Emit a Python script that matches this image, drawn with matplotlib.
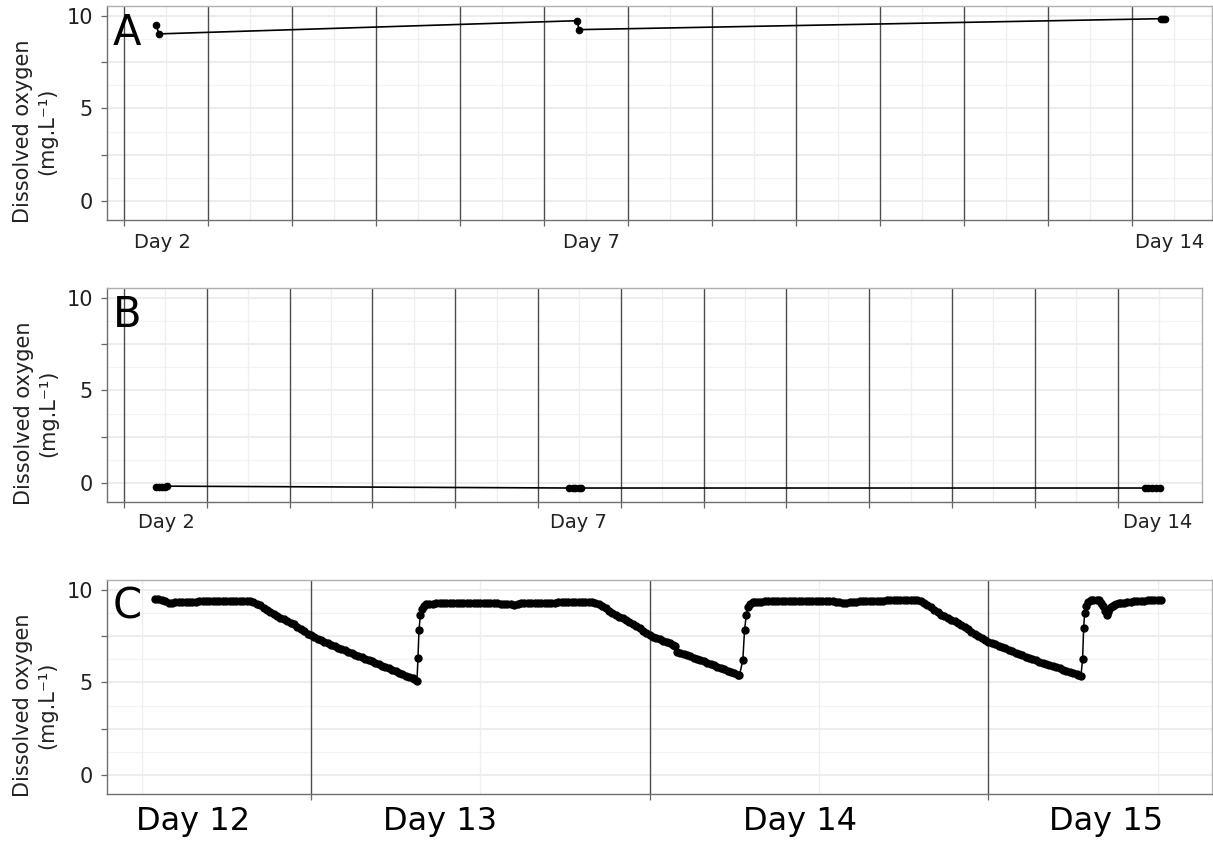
import numpy as np
import matplotlib.pyplot as plt

## Data ########################

# panel A (days 2 - 14)
a_day = [2.38, 2.42, 7.39, 7.42, 14.34, 14.365, 14.39]
a_do = [9.52, 9.02, 9.73, 9.25, 9.84, 9.84, 9.84]
a_labels = ['Day 2', 'Day 7', 'Day 14']
a_label_pos = [2.46, 7.57, 14.44]

# panel B (days 2 - 14)
b_day = [2.39, 2.42, 2.46, 2.49, 2.52,
         7.38, 7.42, 7.45, 7.49, 7.52,
         14.33, 14.37, 14.42, 14.46, 14.51]
b_do = [-0.23, -0.24, -0.22, -0.19, -0.17,
        -0.27, -0.27, -0.26, -0.27, -0.27,
        -0.27, -0.27, -0.26, -0.27, -0.27]
b_labels = ['Day 2', 'Day 7', 'Day 14']
b_label_pos = [2.51, 7.49, 14.48]

# panel C (continuous logging), read per stretch
c_day_1 = [12.540, 12.550, 12.560, 12.570, 12.580, 12.590, 12.600, 12.610, 12.620, 12.630,
           12.640, 12.650, 12.660, 12.670, 12.680, 12.690, 12.700, 12.710, 12.720, 12.730,
           12.740, 12.750, 12.760, 12.770, 12.780, 12.790, 12.800, 12.810, 12.820, 12.830,
           12.840, 12.850, 12.860, 12.870, 12.880, 12.890, 12.900, 12.910, 12.920, 12.930,
           12.940, 12.950, 12.960, 12.970, 12.980, 12.990, 13.000, 13.010, 13.020, 13.030,
           13.040, 13.050, 13.060, 13.070, 13.080, 13.090, 13.100, 13.110, 13.120, 13.130,
           13.140, 13.150, 13.160, 13.170, 13.180, 13.190, 13.200, 13.210, 13.220, 13.230,
           13.240, 13.250, 13.260, 13.270, 13.280, 13.290, 13.300, 13.305, 13.313]
c_do_1 = [9.52, 9.50, 9.45, 9.38, 9.30, 9.31, 9.33, 9.34, 9.35, 9.35,
          9.36, 9.36, 9.36, 9.37, 9.37, 9.37, 9.37, 9.37, 9.37, 9.37,
          9.37, 9.37, 9.37, 9.38, 9.38, 9.38, 9.38, 9.38, 9.37, 9.33,
          9.24, 9.15, 9.03, 8.92, 8.81, 8.70, 8.60, 8.50, 8.41, 8.32,
          8.23, 8.13, 8.01, 7.88, 7.76, 7.63, 7.53, 7.44, 7.36, 7.28,
          7.20, 7.12, 7.04, 6.96, 6.88, 6.80, 6.72, 6.65, 6.57, 6.50,
          6.43, 6.36, 6.28, 6.21, 6.13, 6.06, 5.98, 5.90, 5.83, 5.75,
          5.67, 5.59, 5.52, 5.44, 5.37, 5.30, 5.22, 5.18, 5.10]

c_day_2 = [13.316, 13.319, 13.323, 13.327, 13.333, 13.341, 13.350, 13.360, 13.370, 13.380,
           13.390, 13.400, 13.410, 13.420, 13.430, 13.440, 13.450, 13.460, 13.470, 13.480,
           13.490, 13.500, 13.510, 13.520, 13.530, 13.540, 13.550, 13.560, 13.570, 13.580,
           13.590, 13.600, 13.610, 13.620, 13.630, 13.640, 13.650, 13.660, 13.670, 13.680,
           13.690, 13.700, 13.710, 13.720, 13.730, 13.740, 13.750, 13.760, 13.770, 13.780,
           13.790, 13.800, 13.810, 13.820, 13.830, 13.840, 13.850, 13.860, 13.870, 13.880,
           13.890, 13.900, 13.910, 13.920, 13.930, 13.940, 13.950, 13.960, 13.970, 13.980,
           13.990, 14.000, 14.010, 14.020, 14.030, 14.040, 14.050, 14.060, 14.070, 14.075,
           14.080, 14.090, 14.100, 14.110, 14.120, 14.130, 14.140, 14.150, 14.160, 14.170,
           14.180, 14.190, 14.200, 14.210, 14.220, 14.230, 14.240, 14.250, 14.260, 14.265]
c_do_2 = [6.29, 7.84, 8.61, 8.95, 9.12, 9.22, 9.24, 9.25, 9.26, 9.27,
          9.27, 9.27, 9.28, 9.28, 9.28, 9.28, 9.28, 9.28, 9.28, 9.28,
          9.28, 9.27, 9.27, 9.27, 9.27, 9.27, 9.26, 9.25, 9.23, 9.22,
          9.21, 9.20, 9.24, 9.26, 9.27, 9.28, 9.29, 9.30, 9.30, 9.30,
          9.31, 9.31, 9.31, 9.31, 9.32, 9.32, 9.32, 9.32, 9.33, 9.33,
          9.33, 9.33, 9.33, 9.33, 9.33, 9.31, 9.24, 9.12, 8.99, 8.86,
          8.74, 8.63, 8.54, 8.45, 8.35, 8.25, 8.16, 8.05, 7.92, 7.78,
          7.66, 7.54, 7.47, 7.40, 7.33, 7.25, 7.18, 7.10, 7.02, 6.96,
          6.65, 6.58, 6.52, 6.46, 6.40, 6.33, 6.27, 6.20, 6.13, 6.06,
          5.99, 5.92, 5.85, 5.78, 5.70, 5.63, 5.56, 5.49, 5.42, 5.38]

c_day_3 = [14.275, 14.280, 14.285, 14.290, 14.297, 14.305, 14.310, 14.320, 14.330, 14.340,
           14.350, 14.360, 14.370, 14.380, 14.390, 14.400, 14.410, 14.420, 14.430, 14.440,
           14.450, 14.460, 14.470, 14.480, 14.490, 14.500, 14.510, 14.520, 14.530, 14.540,
           14.550, 14.560, 14.570, 14.580, 14.590, 14.600, 14.610, 14.620, 14.630, 14.640,
           14.650, 14.660, 14.670, 14.680, 14.690, 14.700, 14.710, 14.720, 14.730, 14.740,
           14.750, 14.760, 14.770, 14.780, 14.790, 14.800, 14.810, 14.820, 14.830, 14.840,
           14.850, 14.860, 14.870, 14.880, 14.890, 14.900, 14.910, 14.920, 14.930, 14.940,
           14.950, 14.960, 14.970, 14.980, 14.990, 15.000, 15.010, 15.020, 15.030, 15.040,
           15.050, 15.060, 15.070, 15.080, 15.090, 15.100, 15.110, 15.120, 15.130, 15.140,
           15.150, 15.160, 15.170, 15.180, 15.190, 15.200, 15.210, 15.220, 15.230, 15.240,
           15.250, 15.260, 15.265, 15.273]
c_do_3 = [6.20, 7.81, 8.61, 9.05, 9.22, 9.32, 9.34, 9.35, 9.36, 9.37,
          9.37, 9.38, 9.38, 9.38, 9.39, 9.39, 9.40, 9.40, 9.40, 9.40,
          9.40, 9.40, 9.40, 9.40, 9.40, 9.39, 9.39, 9.38, 9.38, 9.37,
          9.35, 9.33, 9.31, 9.30, 9.32, 9.34, 9.36, 9.37, 9.38, 9.38,
          9.39, 9.40, 9.40, 9.41, 9.41, 9.42, 9.42, 9.43, 9.43, 9.44,
          9.44, 9.45, 9.45, 9.45, 9.43, 9.38, 9.30, 9.18, 9.05, 8.92,
          8.79, 8.66, 8.56, 8.47, 8.38, 8.29, 8.20, 8.10, 7.98, 7.86,
          7.73, 7.60, 7.49, 7.39, 7.29, 7.20, 7.13, 7.06, 6.98, 6.91,
          6.83, 6.76, 6.68, 6.61, 6.53, 6.46, 6.39, 6.32, 6.25, 6.19,
          6.12, 6.06, 6.00, 5.94, 5.87, 5.81, 5.75, 5.69, 5.62, 5.56,
          5.50, 5.44, 5.40, 5.35]

c_day_4 = [15.278, 15.281, 15.284, 15.288, 15.295, 15.303, 15.310, 15.320, 15.327, 15.333,
           15.337, 15.343, 15.349, 15.353, 15.357, 15.362, 15.367, 15.372, 15.377, 15.385,
           15.390, 15.400, 15.410, 15.420, 15.430, 15.440, 15.450, 15.460, 15.470, 15.480,
           15.490, 15.500, 15.510]
c_do_4 = [6.24, 7.93, 8.73, 9.14, 9.35, 9.45, 9.47, 9.46, 9.45, 9.30,
          9.14, 8.85, 8.66, 8.82, 8.97, 9.06, 9.12, 9.18, 9.23, 9.26,
          9.28, 9.31, 9.33, 9.35, 9.37, 9.38, 9.40, 9.41, 9.42, 9.42,
          9.43, 9.44, 9.45]

c_day = c_day_1 + c_day_2 + c_day_3 + c_day_4
c_do = c_do_1 + c_do_2 + c_do_3 + c_do_4
c_labels = ['Day 12', 'Day 13', 'Day 14', 'Day 15']
c_label_pos = [12.652, 13.381, 14.445, 15.348]

y_ticks = [0, 2.5, 5, 7.5, 10]
y_ticklabels = ['0', '', '5', '', '10']

## Figure ########################

W, H = 1213, 841
fig = plt.figure(figsize=(W / 100, H / 100), dpi=100)

def px_axes(left, right, top, bottom):
    return fig.add_axes([left / W, 1 - bottom / H, (right - left) / W, (bottom - top) / H])

ax_a = px_axes(107, 1212, 6, 220)
ax_b = px_axes(107, 1202, 288, 502)
ax_c = px_axes(107, 1212, 580, 794)


def style_axes(ax, xlim, day_ticks, half_ticks, letter):
    ax.set_xlim(*xlim)
    ax.set_ylim(-1.025, 10.525)
    ax.set_xticks(day_ticks)
    ax.set_xticklabels([''] * len(day_ticks))
    ax.set_xticks(half_ticks, minor=True)
    ax.set_yticks(y_ticks)
    ax.set_yticklabels(y_ticklabels, fontsize=15, color='#222222')
    ax.set_yticks([1.25, 3.75, 6.25, 8.75], minor=True)
    ax.tick_params(axis='both', which='major', direction='out', length=4, width=0.9,
                   color='#666666', pad=6)
    ax.tick_params(axis='both', which='minor', length=0)
    ax.set_axisbelow(True)
    ax.grid(which='major', axis='x', color='#4d4d4d', linewidth=1.0)
    ax.grid(which='minor', axis='x', color='#eeeeee', linewidth=0.9)
    ax.grid(which='major', axis='y', color='#e8e8e8', linewidth=1.1)
    ax.grid(which='minor', axis='y', color='#f3f3f3', linewidth=0.9)
    # keep the dark day lines on top of the horizontal grid
    ax.yaxis.set_zorder(0.4)
    ax.xaxis.set_zorder(0.6)
    for side in ['top', 'right']:
        ax.spines[side].set_color('#b0b0b0')
    for side in ['left', 'bottom']:
        ax.spines[side].set_color('#707070')
    for s in ax.spines.values():
        s.set_linewidth(1.0)
    ax.text(0.005, 0.82, letter, transform=ax.transAxes, fontsize=30,
            ha='left', va='baseline', color='black')
    ax.text(-0.065, 0.415, 'Dissolved oxygen\n(mg.L\u207b\u00b9)', transform=ax.transAxes,
            rotation=90, ha='center', va='center', multialignment='center',
            fontsize=15, color='#222222', linespacing=1.25)


# (A) ###############################################
style_axes(ax_a, (1.80, 14.95), list(range(2, 15)), np.arange(2.5, 15, 1.0), 'A')
ax_a.plot(a_day, a_do, 'k.-', markersize=9, linewidth=1.2)
for pos, lab in zip(a_label_pos, a_labels):
    ax_a.text(pos, -0.131, lab, transform=ax_a.get_xaxis_transform(),
              ha='center', va='baseline', fontsize=14, color='#222222')

# (B) ###############################################
style_axes(ax_b, (1.795, 15.02), list(range(2, 15)), np.arange(2.5, 15, 1.0), 'B')
ax_b.plot(b_day, b_do, 'k.-', markersize=9, linewidth=1.2)
for pos, lab in zip(b_label_pos, b_labels):
    ax_b.text(pos, -0.121, lab, transform=ax_b.get_xaxis_transform(),
              ha='center', va='baseline', fontsize=14, color='#222222')

# (C) ###############################################
style_axes(ax_c, (12.398, 15.66), [13, 14, 15], [12.5, 13.5, 14.5, 15.5], 'C')
ax_c.plot(c_day, c_do, color='black', marker='o', markersize=5, linewidth=1.1)
for pos, lab in zip(c_label_pos, c_labels):
    ax_c.text(pos, -0.168, lab, transform=ax_c.get_xaxis_transform(),
              ha='center', va='baseline', fontsize=23, color='black')

fig.savefig('out.png', dpi=100)
